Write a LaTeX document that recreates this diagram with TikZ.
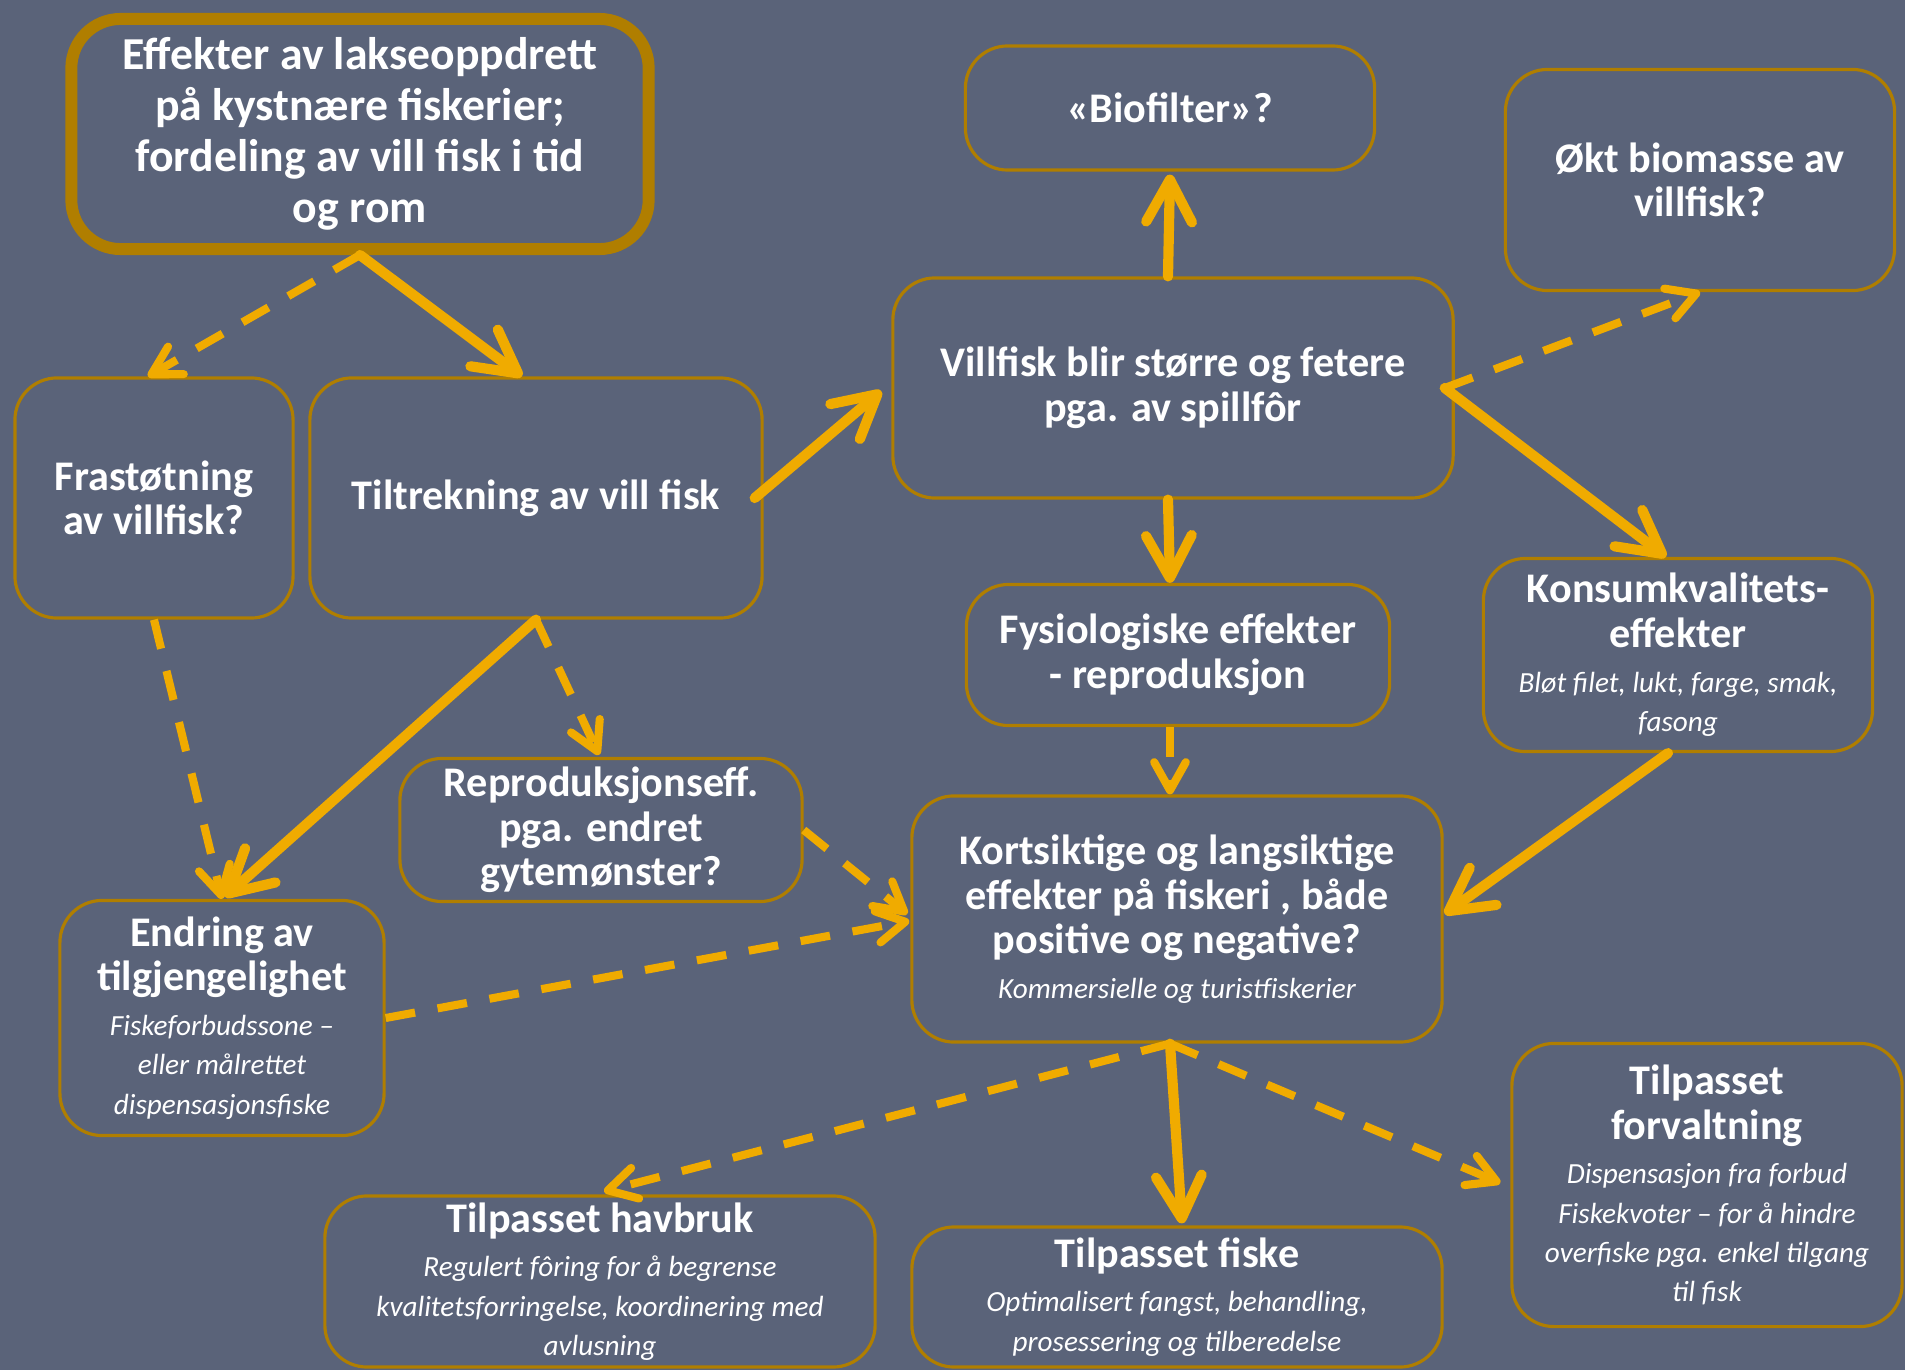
\documentclass[tikz,border=0pt]{standalone}
\usepackage{fontspec}
\setmainfont{Carlito}
\usetikzlibrary{arrows.meta,calc}
\definecolor{bg}{RGB}{90,99,121}
\definecolor{bord}{RGB}{176,126,0}
\definecolor{arr}{RGB}{240,171,0}
\newcommand{\itl}[1]{{\mdseries\itshape\fontsize{8.3}{11}\selectfont #1}}
\begin{document}
\begin{tikzpicture}[x=0.01cm,y=-0.01cm,
  box/.style={draw=bord, line width=0.9pt, rounded corners=12pt, fill=bg, text=white,
    align=center, inner sep=0pt, font=\fontsize{12}{12.7}\selectfont\bfseries},
  sarrow/.style={draw=arr, line width=2.9pt, line cap=round,
    -{Straight Barb[length=12pt,width=13pt,round]}},
  darrow/.style={draw=arr, line width=2.3pt, dash pattern=on 8.5pt off 6.5pt,
    -{Straight Barb[length=8pt,width=9pt,round]}}]
\fill[bg] (0,0) rectangle (1905,1370);
\useasboundingbox (0,0) rectangle (1905,1370);

\node[box, line width=3.4pt, rounded corners=14pt, minimum width=5.77cm, minimum height=2.30cm,
  font=\fontsize{13}{14.5}\selectfont\bfseries] (title) at (360,134)
  {Effekter av lakseoppdrett\\på kystnære fiskerier;\\fordeling av vill fisk i tid\\og rom};
\node[box, minimum width=2.78cm, minimum height=2.40cm] (fras) at (154,498) {Frastøtning\\av villfisk?};
\node[box, minimum width=4.52cm, minimum height=2.40cm] (tilt) at (536,498) {Tiltrekning av vill fisk};
\node[box, minimum width=4.09cm, minimum height=1.24cm] (bio) at (1170,108) {«Biofilter»?};
\node[box, minimum width=3.89cm, minimum height=2.21cm] (okt) at (1700,180) {Økt biomasse av\\villfisk?};
\node[box, minimum width=5.60cm, minimum height=2.20cm] (vill) at (1173,388) {Villfisk blir større og fetere\\pga. av spillfôr};
\node[box, minimum width=4.23cm, minimum height=1.41cm] (fys) at (1178,655) {Fysiologiske effekter\\- reproduksjon};
\node[box, minimum width=3.89cm, minimum height=1.93cm] (kons) at (1678,655)
  {Konsumkvalitets-\\effekter\\\itl{Bløt filet, lukt, farge, smak,}\\[-1.5pt]\itl{fasong}};
\node[box, minimum width=4.02cm, minimum height=1.43cm] (repr) at (601,830) {Reproduksjonseff.\\pga. endret\\gytemønster?};
\node[box, minimum width=3.24cm, minimum height=2.35cm] (endr) at (222,1018)
  {Endring av\\tilgjengelighet\\\itl{Fiskeforbudssone –}\\[-1.5pt]\itl{eller målrettet}\\[-1.5pt]\itl{dispensasjonsfiske}};
\node[box, minimum width=5.30cm, minimum height=2.46cm] (kort) at (1177,919)
  {Kortsiktige og langsiktige\\effekter på fiskeri , både\\positive og negative?\\\itl{Kommersielle og turistfiskerier}};
\node[box, minimum width=5.50cm, minimum height=1.71cm] (havb) at (600,1281.5)
  {Tilpasset havbruk\\\itl{Regulert fôring for å begrense}\\[-1.5pt]\itl{kvalitetsforringelse, koordinering med}\\[-1.5pt]\itl{avlusning}};
\node[box, minimum width=5.30cm, minimum height=1.40cm] (fisk) at (1177,1297)
  {Tilpasset fiske\\\itl{Optimalisert fangst, behandling,}\\[-1.5pt]\itl{prosessering og tilberedelse}};
\node[box, minimum width=3.90cm, minimum height=2.83cm] (forv) at (1707,1185)
  {Tilpasset\\forvaltning\\\itl{Dispensasjon fra forbud}\\[-1.5pt]\itl{Fiskekvoter – for å hindre}\\[-1.5pt]\itl{overfiske pga. enkel tilgang}\\[-1.5pt]\itl{til fisk}};

\draw[sarrow] (title.south) -- ($(tilt.north)+(-14,0)$);
\draw[darrow] (title.south) -- ($(fras.north)+(-6,0)$);
\draw[sarrow] ($(tilt.east)+(-9,0)$) -- ($(vill.west)+(-10,3)$);
\draw[sarrow] ($(vill.north)+(-5,0)$) -- ($(bio.south)+(0,3)$);
\draw[darrow] ($(vill.east)+(-10,0)$) -- (okt.south);
\draw[sarrow] ($(vill.east)+(-10,0)$) -- ($(kons.north)+(-12,0)$);
\draw[sarrow] ($(vill.south)+(-5,0)$) -- ($(fys.north)+(-8,0)$);
\draw[darrow] ($(fys.south)+(-8,0)$) -- ($(kort.north)+(-7,0)$);
\draw[sarrow] ($(kons.south)+(-10,0)$) -- ($(kort.east)+(1,-5)$);
\draw[sarrow] (tilt.south) -- ($(endr.north)+(3,-2)$);
\draw[darrow] (tilt.south) -- ($(repr.north)+(-2,-2)$);
\draw[darrow] (fras.south) -- (endr.north);
\draw[darrow] (repr.east) -- ($(kort.west)+(-3,-5)$);
\draw[darrow] (endr.east) -- ($(kort.west)+(-1,2)$);
\draw[darrow] ($(kort.south)+(-7,0)$) -- ($(havb.north)+(4,-3)$);
\draw[sarrow] ($(kort.south)+(-7,0)$) -- ($(fisk.north)+(5,-2)$);
\draw[darrow] ($(kort.south)+(-7,0)$) -- ($(forv.west)+(-10,-2)$);
\end{tikzpicture}
\end{document}
